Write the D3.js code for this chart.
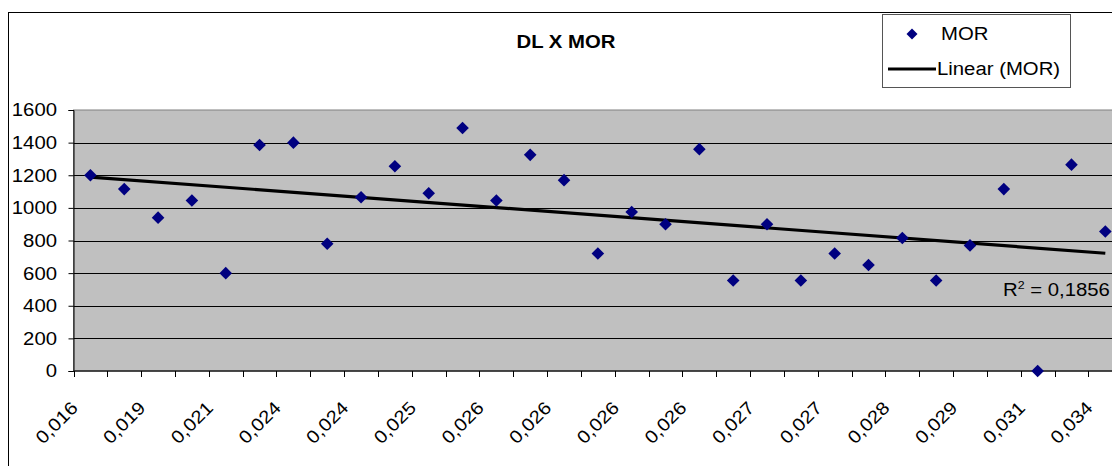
<!DOCTYPE html>
<html><head><meta charset="utf-8">
<script src="https://cdn.jsdelivr.net/npm/d3@7"></script>
<style>
body{margin:0;background:#fff;overflow:hidden}
svg{display:block}
text{font-family:"Liberation Sans",Arial,sans-serif;fill:#000}
</style>
</head><body><svg id="c" width="1112" height="466"></svg>
<script>
const chartTitle = "DL X MOR";
const seriesName = "MOR";
const trendName = "Linear (MOR)";
const rSquaredLabel = "0,1856";
const tickLabels = ["0,016","0,019","0,021","0,024","0,024","0,025","0,026","0,026","0,026","0,026","0,027","0,027","0,028","0,029","0,031","0,034"];
const morValues = [1200,1115,940,1045,600,1385,1400,780,1065,1255,1090,1490,1045,1325,1170,720,975,900,1360,555,900,555,720,650,815,555,770,1115,0,1265,855];
const yTicks = [0,200,400,600,800,1000,1200,1400,1600];

const FS = 18, SX = 1.13;
const svg = d3.select("#c");
const plotL = 73.5, plotT = 110, plotB = 371, step = 33.83;
const n = morValues.length;
const x = d3.scaleBand().domain(d3.range(n)).range([plotL, plotL + n * step]).padding(0);
const y = d3.scaleLinear().domain([0, 1600]).range([plotB, plotT]);
const cx = i => x(i) + x.bandwidth() / 2;

function txt(g, s, tx, ty, opts = {}) {
  const t = g.append("text")
    .attr("transform", `translate(${tx},${ty})` + (opts.rot ? ` rotate(${opts.rot})` : "") + ` scale(${SX},1)`)
    .attr("font-size", opts.size || FS)
    .attr("text-anchor", opts.anchor || "start")
    .text(s);
  if (opts.bold) t.attr("font-weight", "bold");
  if (opts.dy) t.attr("dy", opts.dy);
  return t;
}

// outer chart border
svg.append("rect").attr("x", 8.5).attr("y", 12.5).attr("width", 1300).attr("height", 1000)
  .attr("fill", "#fff").attr("stroke", "#000").attr("stroke-width", 1);

// plot area
svg.append("rect").attr("x", plotL).attr("y", plotT).attr("width", n * step + 10).attr("height", plotB - plotT)
  .attr("fill", "#c0c0c0").attr("stroke", "#808080").attr("stroke-width", 1);

// gridlines
svg.append("g").selectAll("line").data(yTicks.filter(v => v > 0 && v < 1600)).join("line")
  .attr("x1", plotL).attr("x2", plotL + n * step + 10)
  .attr("y1", d => Math.round(y(d)) + 0.5).attr("y2", d => Math.round(y(d)) + 0.5)
  .attr("stroke", "#000").attr("stroke-width", 1);

// y axis
const yAxis = svg.append("g").attr("transform", `translate(${plotL},0)`)
  .call(d3.axisLeft(y).tickValues(yTicks).tickSize(5).tickFormat(""));
yAxis.selectAll("line").attr("stroke", "#000");
yAxis.select(".domain").attr("stroke", "#000");
const yl = svg.append("g");
yTicks.forEach(v => txt(yl, String(v), 57, y(v), {anchor: "end", dy: "0.36em"}));

// x axis line and ticks at category boundaries
const xAxisG = svg.append("g");
xAxisG.append("line").attr("x1", plotL).attr("x2", plotL + n * step + 10)
  .attr("y1", plotB).attr("y2", plotB).attr("stroke", "#222").attr("stroke-width", 1.5);
const bounds = d3.range(n).map(i => x(i)).concat([x(n - 1) + x.bandwidth()]);
xAxisG.selectAll("line.tk").data(bounds).join("line").attr("class", "tk")
  .attr("x1", d => Math.round(d) + 0.5).attr("x2", d => Math.round(d) + 0.5)
  .attr("y1", plotB).attr("y2", plotB + 6).attr("stroke", "#000");
const xl = svg.append("g");
tickLabels.forEach((s, k) => txt(xl, s, cx(k * 2) - 11.5, plotB + 38, {anchor: "end", rot: -45}));

// trendline (least squares on category index)
const xs = d3.range(1, n + 1);
const mx = d3.mean(xs), my = d3.mean(morValues);
const slope = d3.sum(xs, (xv, i) => (xv - mx) * (morValues[i] - my)) / d3.sum(xs, xv => (xv - mx) ** 2);
const icpt = my - slope * mx;
svg.append("line")
  .attr("x1", cx(0)).attr("y1", y(icpt + slope * 1))
  .attr("x2", cx(n - 1)).attr("y2", y(icpt + slope * n))
  .attr("stroke", "#000").attr("stroke-width", 3.2);

// markers
const diamond = "M0,-6.3L6.3,0L0,6.3L-6.3,0Z";
svg.append("g").selectAll("path").data(morValues).join("path")
  .attr("d", diamond)
  .attr("transform", (d, i) => `translate(${cx(i)},${y(d)})`)
  .attr("fill", "#000080");

// R squared label
const rt = svg.append("text")
  .attr("transform", `translate(1003,296) scale(${SX},1)`)
  .attr("font-size", FS);
rt.append("tspan").text("R");
rt.append("tspan").attr("font-size", 11).attr("dy", -7).text("2");
rt.append("tspan").attr("dy", 7).text(" = " + rSquaredLabel);

// title
txt(svg, chartTitle, 566, 48, {anchor: "middle", bold: true});

// legend
const lg = svg.append("g");
lg.append("rect").attr("x", 882.5).attr("y", 14.5).attr("width", 188).attr("height", 73)
  .attr("fill", "#fff").attr("stroke", "#555").attr("stroke-width", 1);
lg.append("path").attr("d", "M0,-5.5L5.5,0L0,5.5L-5.5,0Z").attr("transform", "translate(912,34)").attr("fill", "#000080");
txt(lg, seriesName, 941, 34, {dy: "0.36em"});
lg.append("line").attr("x1", 888).attr("x2", 936).attr("y1", 69).attr("y2", 69)
  .attr("stroke", "#000").attr("stroke-width", 3);
txt(lg, trendName, 937, 69, {dy: "0.36em"});
</script>
</body></html>
